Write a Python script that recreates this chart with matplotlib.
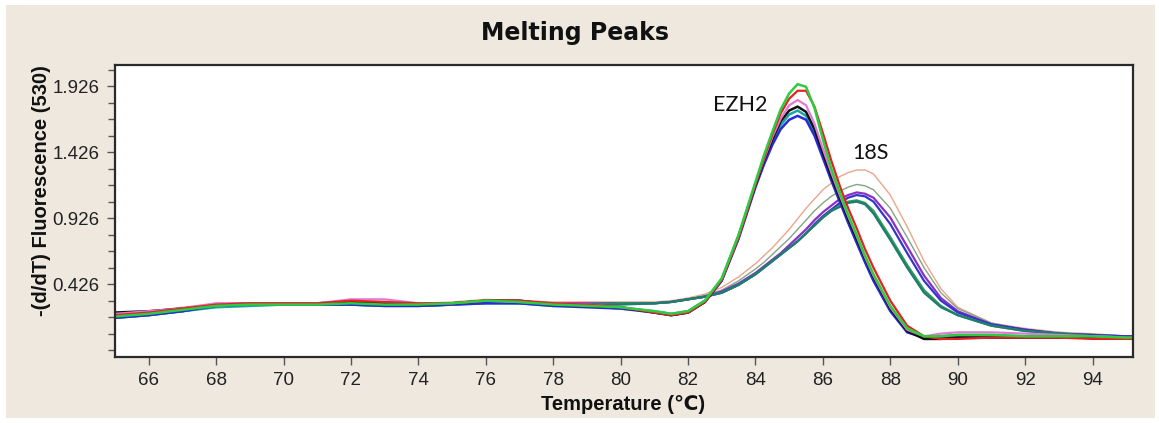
import numpy as np
import matplotlib
matplotlib.use("Agg")
import matplotlib.pyplot as plt
from matplotlib.patches import Rectangle

# temperatura (°C), rejilla compartida por todas las curvas
temp = [65, 66, 67, 68, 69, 70, 71, 72, 73, 74, 75, 76, 77, 78, 79, 80, 81,
        81.5, 82, 82.5, 83, 83.5, 84,
        84.25, 84.5, 84.75, 85, 85.25, 85.5, 85.75, 86, 86.25, 86.5, 86.75, 87, 87.25, 87.5,
        88, 88.5, 89, 89.5, 90, 91, 92, 93, 94, 95, 95.2]

# EZH2
ezh2_green = [0.18, 0.20, 0.23, 0.26, 0.27, 0.27, 0.27, 0.28, 0.27, 0.27, 0.28, 0.30, 0.29, 0.27, 0.26, 0.25, 0.22,
              0.20, 0.22, 0.30, 0.47, 0.80, 1.20,
              1.40, 1.58, 1.75, 1.87, 1.94, 1.92, 1.76, 1.52, 1.30, 1.12, 0.95, 0.80, 0.64, 0.50,
              0.26, 0.09, 0.03, 0.03, 0.04, 0.04, 0.03, 0.03, 0.03, 0.02, 0.02]
ezh2_red = [0.19, 0.21, 0.24, 0.27, 0.28, 0.28, 0.28, 0.30, 0.29, 0.28, 0.28, 0.30, 0.30, 0.28, 0.27, 0.25, 0.21,
            0.19, 0.21, 0.29, 0.46, 0.78, 1.18,
            1.38, 1.56, 1.72, 1.83, 1.89, 1.89, 1.77, 1.57, 1.36, 1.17, 1.00, 0.85, 0.69, 0.55,
            0.30, 0.11, 0.03, 0.01, 0.01, 0.02, 0.02, 0.02, 0.01, 0.01, 0.01]
ezh2_pink = [0.20, 0.22, 0.24, 0.28, 0.28, 0.28, 0.28, 0.31, 0.31, 0.28, 0.28, 0.30, 0.29, 0.28, 0.27, 0.25, 0.22,
             0.20, 0.22, 0.30, 0.46, 0.79, 1.19,
             1.37, 1.54, 1.68, 1.78, 1.82, 1.78, 1.64, 1.45, 1.27, 1.10, 0.94, 0.79, 0.63, 0.49,
             0.25, 0.08, 0.03, 0.05, 0.06, 0.06, 0.05, 0.04, 0.03, 0.02, 0.02]
ezh2_black = [0.21, 0.22, 0.24, 0.27, 0.28, 0.28, 0.28, 0.29, 0.28, 0.27, 0.28, 0.30, 0.30, 0.27, 0.26, 0.25, 0.21,
              0.19, 0.21, 0.29, 0.46, 0.79, 1.18,
              1.36, 1.52, 1.66, 1.74, 1.77, 1.73, 1.60, 1.42, 1.24, 1.08, 0.92, 0.77, 0.62, 0.48,
              0.24, 0.07, 0.01, 0.01, 0.02, 0.02, 0.02, 0.02, 0.02, 0.02, 0.02]
ezh2_blue = [0.17, 0.19, 0.22, 0.26, 0.27, 0.27, 0.27, 0.27, 0.26, 0.26, 0.27, 0.28, 0.28, 0.26, 0.25, 0.24, 0.21,
             0.19, 0.21, 0.29, 0.45, 0.77, 1.16,
             1.33, 1.48, 1.60, 1.67, 1.70, 1.67, 1.55, 1.38, 1.21, 1.05, 0.89, 0.74, 0.59, 0.45,
             0.22, 0.06, 0.02, 0.02, 0.03, 0.03, 0.03, 0.03, 0.02, 0.02, 0.02]
ezh2_teal = [0.17, 0.19, 0.22, 0.25, 0.26, 0.27, 0.27, 0.27, 0.26, 0.26, 0.27, 0.28, 0.28, 0.26, 0.26, 0.24, 0.22,
             0.20, 0.22, 0.30, 0.46, 0.78, 1.17,
             1.35, 1.50, 1.63, 1.71, 1.74, 1.70, 1.57, 1.40, 1.22, 1.06, 0.90, 0.75, 0.60, 0.46,
             0.23, 0.07, 0.02, 0.03, 0.04, 0.04, 0.03, 0.03, 0.03, 0.02, 0.02]

# 18S
s18_salmon = [0.20, 0.22, 0.25, 0.28, 0.28, 0.28, 0.28, 0.29, 0.29, 0.28, 0.29, 0.31, 0.30, 0.29, 0.29, 0.29, 0.29,
              0.30, 0.32, 0.35, 0.40, 0.48, 0.58,
              0.64, 0.70, 0.77, 0.84, 0.92, 1.00, 1.07, 1.14, 1.19, 1.24, 1.27, 1.29, 1.29, 1.26,
              1.10, 0.86, 0.60, 0.39, 0.25, 0.13, 0.09, 0.06, 0.05, 0.03, 0.03]
s18_grey = [0.19, 0.21, 0.24, 0.27, 0.28, 0.28, 0.28, 0.28, 0.28, 0.27, 0.28, 0.30, 0.30, 0.28, 0.28, 0.28, 0.28,
            0.29, 0.31, 0.34, 0.38, 0.45, 0.54,
            0.59, 0.65, 0.71, 0.77, 0.84, 0.91, 0.98, 1.04, 1.09, 1.13, 1.16, 1.18, 1.17, 1.14,
            1.00, 0.78, 0.55, 0.36, 0.24, 0.13, 0.08, 0.06, 0.04, 0.03, 0.03]
s18_purple = [0.19, 0.21, 0.23, 0.27, 0.28, 0.28, 0.28, 0.28, 0.28, 0.27, 0.28, 0.30, 0.29, 0.28, 0.28, 0.28, 0.28,
              0.29, 0.31, 0.33, 0.37, 0.43, 0.51,
              0.56, 0.61, 0.66, 0.72, 0.78, 0.84, 0.91, 0.97, 1.02, 1.07, 1.10, 1.12, 1.11, 1.08,
              0.93, 0.71, 0.49, 0.32, 0.22, 0.12, 0.08, 0.05, 0.04, 0.03, 0.03]
s18_blue = [0.18, 0.20, 0.22, 0.26, 0.27, 0.27, 0.27, 0.27, 0.27, 0.26, 0.27, 0.29, 0.29, 0.27, 0.27, 0.28, 0.28,
            0.29, 0.31, 0.33, 0.36, 0.42, 0.50,
            0.55, 0.60, 0.65, 0.70, 0.75, 0.81, 0.88, 0.94, 0.99, 1.04, 1.08, 1.10, 1.09, 1.05,
            0.88, 0.66, 0.45, 0.30, 0.21, 0.12, 0.08, 0.05, 0.04, 0.03, 0.03]
s18_green = [0.18, 0.20, 0.23, 0.26, 0.27, 0.27, 0.27, 0.27, 0.27, 0.27, 0.28, 0.29, 0.29, 0.27, 0.27, 0.28, 0.28,
             0.29, 0.31, 0.33, 0.36, 0.42, 0.50,
             0.55, 0.60, 0.65, 0.70, 0.75, 0.81, 0.87, 0.93, 0.98, 1.02, 1.05, 1.06, 1.04, 0.98,
             0.78, 0.57, 0.38, 0.26, 0.19, 0.11, 0.07, 0.05, 0.03, 0.02, 0.02]
s18_teal = [0.17, 0.19, 0.22, 0.26, 0.27, 0.27, 0.27, 0.27, 0.26, 0.26, 0.27, 0.29, 0.28, 0.27, 0.27, 0.27, 0.28,
            0.29, 0.31, 0.33, 0.36, 0.42, 0.50,
            0.55, 0.60, 0.65, 0.70, 0.75, 0.81, 0.87, 0.93, 0.98, 1.01, 1.04, 1.05, 1.03, 0.96,
            0.76, 0.55, 0.36, 0.25, 0.19, 0.11, 0.07, 0.05, 0.03, 0.02, 0.02]

x_ticks = [66, 68, 70, 72, 74, 76, 78, 80, 82, 84, 86, 88, 90, 92, 94]
y_ticks = [0.426, 0.926, 1.426, 1.926]

BG = "#eee8df"


def main():
    fig = plt.figure(figsize=(11.59, 4.23), dpi=100)
    fig.patch.set_facecolor("white")
    fig.patches.append(Rectangle((0.005, 0.012), 0.9914, 0.976, transform=fig.transFigure,
                                 facecolor=BG, edgecolor="none", zorder=-10))

    ax = fig.add_axes([0.0992, 0.156, 0.8784, 0.6903])
    ax.set_facecolor("white")

    # 18S (las finas primero)
    ax.plot(temp, s18_salmon, color="#e9a68c", lw=1.0)
    ax.plot(temp, s18_grey, color="#86a386", lw=1.0)
    ax.plot(temp, s18_purple, color="#8a2fc8", lw=1.6)
    ax.plot(temp, s18_blue, color="#3535c8", lw=1.6)
    ax.plot(temp, s18_green, color="#2f9a55", lw=1.6)
    ax.plot(temp, s18_teal, color="#1f7c72", lw=1.6)

    # EZH2
    ax.plot(temp, ezh2_teal, color="#1aa6a6", lw=1.8)
    ax.plot(temp, ezh2_blue, color="#2b2bd6", lw=1.8)
    ax.plot(temp, ezh2_black, color="#111111", lw=1.8)
    ax.plot(temp, ezh2_pink, color="#e07ad6", lw=1.6)
    ax.plot(temp, ezh2_red, color="#e32222", lw=1.6)
    ax.plot(temp, ezh2_green, color="#2ecc40", lw=1.8)

    ax.set_xlim(65, 95.2)
    ax.set_ylim(-0.127, 2.085)
    ax.set_xticks(x_ticks)
    ax.set_xticklabels([str(t) for t in x_ticks])
    ax.set_yticks(y_ticks)
    ax.set_yticklabels([f"{v:.3f}" for v in y_ticks])
    ax.set_yticks(np.arange(-0.074, 2.08, 0.125), minor=True)

    for side in ax.spines.values():
        side.set_linewidth(1.6)
        side.set_color("#2a2a2a")
    ax.tick_params(axis="both", which="major", direction="out", length=6, width=1,
                   color="#555555", labelsize=13.5, labelcolor="#222222", pad=5)
    ax.tick_params(axis="y", which="minor", direction="out", length=5, width=1, color="#555555")
    for lab in ax.get_xticklabels() + ax.get_yticklabels():
        lab.set_family("Liberation Sans")

    ax.text(83.55, 1.784, "EZH2", family="Lato", fontsize=15.5, ha="center", va="center", color="#111111")
    ax.text(87.41, 1.422, "18S", family="Lato", fontsize=15.5, ha="center", va="center", color="#111111")

    fig.text(0.496, 0.921, "Melting Peaks", family="DejaVu Sans", fontweight="bold",
             fontsize=17, ha="center", va="center", color="#111111")
    fig.text(0.538, 0.043, "Temperature (℃)", family=["Liberation Sans", "DejaVu Sans"],
             fontweight="bold", fontsize=14.5, ha="center", va="center", color="#111111")
    fig.text(0.036, 0.55, "-(d/dT) Fluorescence (530)", family="Liberation Sans",
             fontweight="bold", fontsize=14.5, rotation=90, ha="center", va="center", color="#111111")

    fig.savefig("out.png", dpi=100, facecolor=fig.get_facecolor())
    plt.close(fig)


if __name__ == "__main__":
    main()
